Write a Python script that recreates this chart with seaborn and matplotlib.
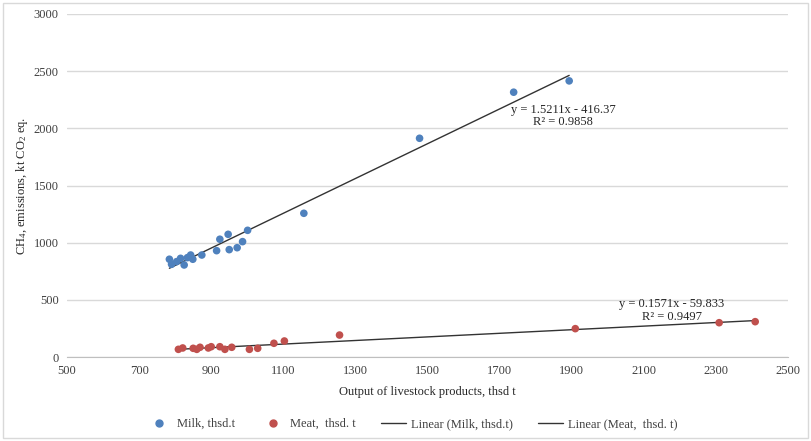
import numpy as np
import pandas as pd
import matplotlib
matplotlib.use("Agg")
import matplotlib.pyplot as plt
import seaborn as sns
from matplotlib.patches import Rectangle
from matplotlib.lines import Line2D

# ---- data ----
milk_x = [784, 790, 804, 815, 825, 834, 843, 849, 874, 915, 924, 947, 950, 972, 987, 1001,
          1157, 1478, 1739, 1893]
milk_y = [855, 811, 834, 863, 805, 869, 892, 855, 892, 930, 1030, 1073, 939, 956, 1009, 1108,
          1257, 1913, 2316, 2415]
meat_x = [809, 821, 850, 860, 869, 892, 900, 924, 938, 957, 1006, 1029, 1074, 1103,
          1256, 1910, 2309, 2409]
meat_y = [67, 79, 76, 67, 85, 79, 90, 90, 67, 85, 67, 76, 120, 140,
          192, 248, 300, 309]
milk_fit = (1.5211, -416.37, 0.9858)
meat_fit = (0.1571, -59.833, 0.9497)
series_names = ["Milk, thsd.t", "Meat,  thsd. t"]
trend_names = ["Linear (Milk, thsd.t)", "Linear (Meat,  thsd. t)"]
x_ticks = [500, 700, 900, 1100, 1300, 1500, 1700, 1900, 2100, 2300, 2500]
y_ticks = [0, 500, 1000, 1500, 2000, 2500, 3000]

sns.set_style("white")
plt.rcParams["font.family"] = ["Liberation Serif", "DejaVu Serif"]
plt.rcParams["mathtext.fontset"] = "custom"
plt.rcParams["mathtext.rm"] = "Liberation Serif"
plt.rcParams["mathtext.it"] = "Liberation Serif:italic"

df = pd.DataFrame({
    "x": milk_x + meat_x,
    "y": milk_y + meat_y,
    "series": [series_names[0]] * len(milk_x) + [series_names[1]] * len(meat_x),
})
blue = "#4F81BD"
red = "#C0504D"

fig = plt.figure(figsize=(8.11, 4.41), dpi=100)
ax = fig.add_axes([67 / 811, 1 - 357 / 441, (788 - 67) / 811, (357 - 14) / 441])

sns.scatterplot(data=df, x="x", y="y", hue="series", palette=[blue, red],
                s=30, edgecolor="none", ax=ax, legend=False, zorder=3)

for xs, fit in [(milk_x, milk_fit), (meat_x, meat_fit)]:
    xr = np.array([min(xs), max(xs)], dtype=float)
    tdf = pd.DataFrame({"x": xr, "y": fit[0] * xr + fit[1]})
    sns.lineplot(data=tdf, x="x", y="y", color="#333333", lw=1.0, ax=ax, zorder=2)

ax.set_xlim(500, 2500)
ax.set_ylim(0, 3000)
ax.set_xticks(x_ticks)
ax.set_yticks(y_ticks)
ax.tick_params(axis="both", length=0, labelsize=9, colors="#404040", pad=6)
ax.yaxis.grid(True, color="#D9D9D9", lw=1)
ax.set_axisbelow(True)
for s in ["top", "right", "left"]:
    ax.spines[s].set_visible(False)
ax.spines["bottom"].set_color("#BFBFBF")
ax.set_xlabel("Output of livestock products, thsd t", fontsize=9, color="#262626", labelpad=6)
ax.set_ylabel("CH$_4$, emissions, kt CO$_2$ eq.", fontsize=9, color="#262626", labelpad=3)

ax.text(1876, 2108, f"y = {milk_fit[0]}x - {abs(milk_fit[1])}\nR² = {milk_fit[2]}",
        ha="center", va="center", fontsize=9, linespacing=1.1, color="#262626")
ax.text(2178, 407, f"y = {meat_fit[0]}x - {abs(meat_fit[1])}\nR² = {meat_fit[2]}",
        ha="center", va="center", fontsize=9, linespacing=1.1, color="#262626")

handles = [
    Line2D([], [], marker="o", ls="none", color=blue, markersize=5),
    Line2D([], [], marker="o", ls="none", color=red, markersize=5),
    Line2D([], [], color="#333333", lw=1.0),
    Line2D([], [], color="#333333", lw=1.0),
]
fig.legend(handles, series_names + trend_names, loc="center", ncol=4,
           bbox_to_anchor=(412 / 811, 1 - 424 / 441), frameon=False, fontsize=9,
           handlelength=2.0, columnspacing=2.0, handletextpad=0.4,
           labelcolor="#404040")

fig.patches.append(Rectangle((3 / 811, 3 / 441), 805 / 811, 435 / 441,
                             transform=fig.transFigure, fill=False,
                             edgecolor="#D9D9D9", lw=1))

fig.savefig("out.png", dpi=100)
